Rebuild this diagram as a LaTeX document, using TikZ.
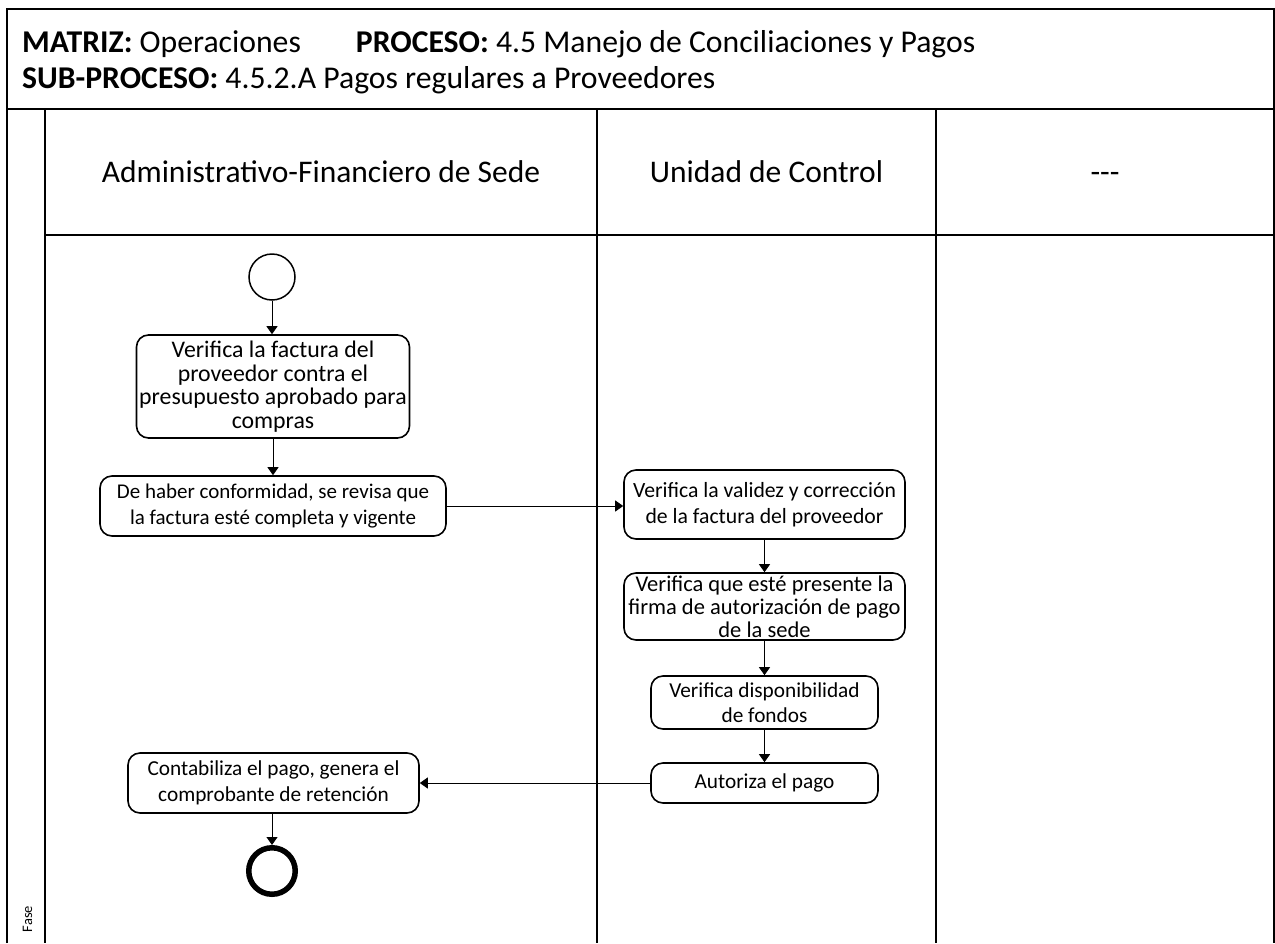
\documentclass[tikz,border=0pt]{standalone}
\usepackage{fontspec}
\setmainfont{Carlito}
\usetikzlibrary{arrows.meta}
\begin{document}
\begin{tikzpicture}[x=1pt,y=-1pt,
  frame/.style={line width=2pt},
  stepbox/.style={draw, line width=1.6pt, rounded corners=12pt, align=center,
    inner sep=0pt, font=\fontsize{21.3}{25.6}\selectfont},
  flow/.style={line width=1pt, -{Triangle[width=11pt,length=8pt]}},
  lanehead/.style={anchor=base, font=\fontsize{31.5}{38}\selectfont},
  headtext/.style={anchor=base west, inner sep=0pt, font=\fontsize{31.7}{37}\selectfont},
]
\useasboundingbox (0,0) rectangle (1275,943);

% outer frame, title band and swimlanes
\draw[frame] (7,943) -- (7,9) -- (1274,9) -- (1274,943);
\draw[frame] (7,109) -- (1274,109);
\draw[frame] (45,109) -- (45,943);
\draw[frame] (597,109) -- (597,943);
\draw[frame] (936,109) -- (936,943);
\draw[frame] (45,235) -- (1274,235);

% title band
\node[headtext] (matriz) at (22,52)
  {\textbf{MATRIZ:} Operaciones\hspace{55pt}\textbf{PROCESO:} 4.5 Manejo de Conciliaciones y Pagos};
\node[headtext] (subproc) at (22,88)
  {\textbf{SUB-PROCESO:} 4.5.2.A Pagos regulares a Proveedores};

% lane headers
\node[lanehead] (laneA) at (321,182) {Administrativo-Financiero de Sede};
\node[lanehead] (laneB) at (766.5,182) {Unidad de Control};
\node[lanehead] (laneC) at (1105,182) {{-}{-}{-}};
\node[rotate=90, font=\fontsize{14.5}{16}\selectfont, inner sep=0pt] (fase) at (27.5,919) {Fase};

% start / end
\node[circle, draw, line width=1.5pt, minimum size=46pt, inner sep=0pt] (start) at (272,277) {};
\node[circle, draw, line width=5.5pt, minimum size=46.5pt, inner sep=0pt] (stop) at (272,871) {};

% activities
\node[stepbox, minimum width=273pt, minimum height=103pt,
      font=\fontsize{23.8}{23.5}\selectfont] (b1) at (273,386.5)
  {Verifica la factura del\\proveedor contra el\\presupuesto aprobado para\\compras};
\node[stepbox, minimum width=346pt, minimum height=60pt, font=\fontsize{21}{25.6}\selectfont] (b2) at (273,506)
  {De haber conformidad, se revisa que\\la factura esté completa y vigente};
\node[stepbox, minimum width=281pt, minimum height=69pt, font=\fontsize{21.7}{25.6}\selectfont] (b3) at (764.5,504.5)
  {Verifica la validez y corrección\\de la factura del proveedor};
\node[stepbox, minimum width=281pt, minimum height=67pt,
      font=\fontsize{22.5}{23}\selectfont] (b4) at (764.5,606.5)
  {Verifica que esté presente la\\firma de autorización de pago\\de la sede};
\node[stepbox, minimum width=227pt, minimum height=53pt] (b5) at (764.5,702.5)
  {Verifica disponibilidad\\de fondos};
\node[stepbox, minimum width=227pt, minimum height=40pt] (b6) at (764.5,783)
  {Autoriza el pago};
\node[stepbox, minimum width=291pt, minimum height=60pt] (b7) at (273.5,783)
  {Contabiliza el pago, genera el\\comprobante de retención};

% flow
\draw[flow] (start) -- (start |- b1.north);
\draw[flow] (b1) -- (b2);
\draw[flow] (b2.east) -- (b2.east -| b3.west);
\draw[flow] (b3) -- (b4);
\draw[flow] (b4) -- (b5);
\draw[flow] (b5) -- (b6);
\draw[flow] (b6.west) -- (b6.west -| b7.east);
\draw[flow] (b7.south -| stop) -- (stop.north);
\end{tikzpicture}
\end{document}
